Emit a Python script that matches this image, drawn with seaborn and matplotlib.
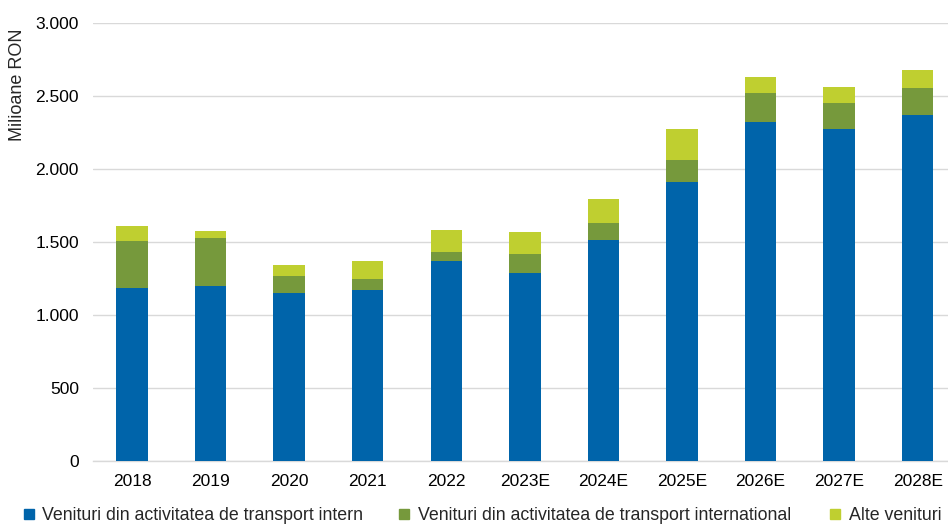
import matplotlib
matplotlib.use("Agg")
import matplotlib.pyplot as plt
from matplotlib.lines import Line2D
from matplotlib.ticker import FuncFormatter, MultipleLocator
import pandas as pd
import seaborn as sns

years = ["2018", "2019", "2020", "2021", "2022", "2023E", "2024E",
         "2025E", "2026E", "2027E", "2028E"]
transport_intern = [1185, 1199, 1151, 1169, 1365, 1288, 1510, 1909, 2322, 2270, 2368]
transport_international = [318, 324, 116, 73, 65, 130, 118, 151, 194, 180, 185]
alte_venituri = [104, 52, 73, 124, 150, 150, 167, 212, 110, 112, 121]

labels = ["Venituri din activitatea de transport intern",
          "Venituri din activitatea de transport international",
          "Alte venituri"]
colors = ["#0064AA", "#76993C", "#BFCF30"]

sns.set_theme(style="white")
plt.rcParams["font.family"] = ["Liberation Sans", "DejaVu Sans"]

df = pd.DataFrame({
    "an": years,
    "intern": transport_intern,
    "international": transport_international,
    "alte": alte_venituri,
})
df["lvl1"] = df["intern"]
df["lvl2"] = df["intern"] + df["international"]
df["lvl3"] = df["lvl2"] + df["alte"]

W, H = 948, 524
fig = plt.figure(figsize=(W / 100, H / 100), dpi=100)
ax = fig.add_axes([0.0978, 0.1208, 0.9117, 0.8359])

# stacked bars drawn as overlapping cumulative totals
for col, c in zip(["lvl3", "lvl2", "lvl1"], colors[::-1]):
    sns.barplot(data=df, x="an", y=col, color=c, width=0.4,
                saturation=1, ax=ax, zorder=3, linewidth=0)

ax.set_ylim(0, 3000)
ax.set_xlim(-0.5, 10.5)
ax.yaxis.set_major_locator(MultipleLocator(500))
ax.yaxis.set_major_formatter(FuncFormatter(lambda v, p: f"{int(v):,}".replace(",", ".")))
ax.grid(axis="y", color="#d9d9d9", linewidth=1.0, zorder=0)
ax.set_axisbelow(True)
for s in ["left", "right", "top"]:
    ax.spines[s].set_visible(False)
ax.spines["bottom"].set_color("#d9d9d9")
ax.spines["bottom"].set_linewidth(1.0)
ax.set_xlabel("")
ax.set_ylabel("")
ax.tick_params(axis="both", length=0, labelsize=12.5, colors="#000000")
ax.tick_params(axis="x", pad=9.5)
ax.tick_params(axis="y", pad=10)

fig.text(17.5 / W, 1 - 85 / H, "Milioane RON", rotation=90, ha="center",
         va="center", fontsize=13)

# legend entries placed one by one along the bottom edge
legend_x = [22.3, 397.8, 828.8]
for lab, c, x in zip(labels, colors, legend_x):
    h = Line2D([0], [0], marker="s", linestyle="none", markersize=6.5,
               markerfacecolor=c, markeredgecolor=c)
    fig.legend([h], [lab], loc="center left",
               bbox_to_anchor=(x / W, 1 - 516 / H), frameon=False,
               fontsize=12.8, handlelength=0.7, handletextpad=0.41,
               borderaxespad=0, borderpad=0)

fig.savefig("out.png", dpi=100)
